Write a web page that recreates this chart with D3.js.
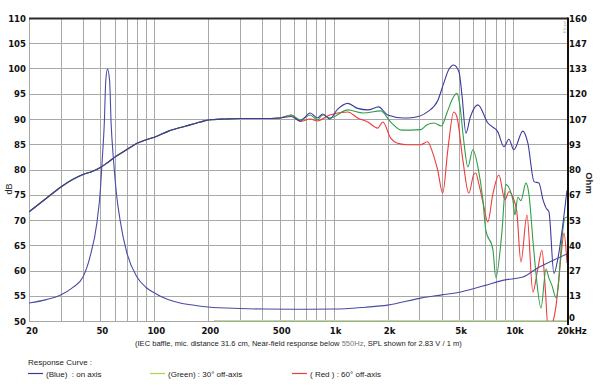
<!DOCTYPE html>
<html><head><meta charset="utf-8">
<script src="https://cdn.jsdelivr.net/npm/d3@7"></script>
<style>
html,body{margin:0;padding:0;background:#fff;}
svg{display:block;}
.tick{font-family:"Liberation Sans Narrow","Arial Narrow","DejaVu Sans Condensed",sans-serif;font-weight:bold;font-size:9.5px;fill:#111;}
.cap{font-family:"Liberation Sans",Arial,sans-serif;font-size:8px;fill:#222;white-space:pre;}
</style></head>
<body>
<div id="chart"></div>
<script>
// ---------- data ----------
const xTickVals = [20, 50, 100, 200, 500, 1000, 2000, 5000, 10000, 20000];
const xTickLabels = ["20", "50", "100", "200", "500", "1k", "2k", "5k", "10k", "20kHz"];
const dbTicks = [50, 55, 60, 65, 70, 75, 80, 85, 90, 95, 100, 105, 110];
const ohmTickLabels = ["0", "13", "27", "40", "53", "67", "80", "93", "107", "120", "133", "147", "160"];

// shared near-field part (all three curves)
const lowFreq = [20, 25, 30, 35, 40, 45, 50, 55, 60, 70, 80, 90, 100, 120, 150, 180, 200, 250, 300, 400, 500];
const lowDb = [71.6, 74.3, 76.5, 78.0, 79.0, 79.6, 80.4, 81.4, 82.4, 83.9, 85.2, 85.9, 86.4, 87.6, 88.6, 89.4, 89.8, 90.0, 90.1, 90.1, 90.2];

const blueFreq = [580, 650, 740, 810, 870, 950, 1050, 1200, 1360, 1550, 1780, 2000, 2460, 2780, 3330, 3800, 4100, 4370, 4670, 5000, 5200, 5460, 5780, 6370, 7240, 8240, 8900, 9490, 10100, 11350, 12100, 13100, 13960, 14700, 15280, 15860, 16910, 17820, 19240, 20000];
const blueDb = [90.5, 89.6, 91.2, 90.2, 91.0, 90.0, 91.9, 93.1, 92.1, 91.8, 92.4, 90.8, 90.2, 90.3, 91.4, 93.6, 97.0, 99.7, 100.7, 99.3, 94.5, 87.2, 90.4, 92.8, 89.2, 87.4, 84.5, 86.0, 83.9, 87.6, 85.2, 77.6, 77.3, 74.0, 72.4, 71.6, 59.4, 62.5, 70.9, 75.9];

const greenFreq = [580, 650, 740, 810, 870, 950, 1200, 1460, 1830, 2080, 2390, 3060, 3300, 3630, 3980, 4300, 4600, 4860, 5050, 5300, 5600, 5970, 6370, 6790, 7050, 7720, 8020, 8670, 9120, 9980, 10240, 10640, 11070, 11800, 12280, 12910, 13420, 14320, 15280, 15860, 16500, 17370, 18000, 18500, 19500, 20000];
const greenDb = [90.8, 89.8, 90.8, 89.8, 90.8, 90.2, 91.8, 91.2, 91.6, 89.4, 87.8, 87.9, 88.8, 89.2, 88.6, 91.4, 94.0, 95.1, 92.8, 86.0, 80.5, 83.9, 80.5, 74.0, 68.0, 64.2, 58.6, 67.6, 77.0, 74.0, 71.0, 74.5, 73.8, 77.3, 75.0, 66.0, 59.5, 52.6, 60.3, 58.5, 57.0, 54.6, 58.0, 64.0, 70.4, 70.6];

const redFreq = [580, 650, 740, 810, 950, 1200, 1360, 1550, 1760, 1880, 2080, 2270, 2600, 3050, 3340, 3550, 3800, 4055, 4330, 4670, 4860, 5250, 5670, 6040, 6200, 6440, 6800, 7240, 7700, 8340, 9010, 9490, 9990, 10500, 11070, 11960, 12910, 13700, 14500, 15100, 15660, 16500, 17370, 18500, 19240, 20000];
const redDb = [90.8, 89.5, 90.0, 89.6, 90.8, 91.4, 90.2, 89.4, 88.2, 89.4, 86.2, 85.2, 84.9, 84.9, 85.5, 83.5, 79.9, 75.3, 83.9, 91.4, 90.5, 81.9, 75.3, 79.0, 79.3, 77.2, 73.5, 69.6, 74.9, 78.9, 74.0, 75.6, 74.5, 71.6, 61.7, 71.0, 55.7, 60.0, 64.0, 57.0, 49.0, 49.5, 53.0, 62.7, 67.4, 61.5];

const impFreq = [20, 25, 30, 35, 40, 43.8, 47.8, 50, 51.2, 52.6, 53.6, 54.8, 56.3, 57.4, 59.2, 61.5, 64.4, 70.3, 80, 90, 98, 120, 139, 170, 200, 300, 404, 600, 1000, 1500, 2000, 3060, 4000, 5100, 6200, 7000, 8900, 11350, 13700, 16900, 20000];
const impOhm = [9.5, 11.3, 13.7, 17.6, 23.2, 34.0, 51.7, 69, 85, 104.5, 127, 133, 127, 104.5, 85, 67, 53.3, 35.9, 23.2, 17.7, 15.3, 11.2, 9.5, 8.2, 7.4, 6.6, 6.3, 6.2, 6.3, 7.3, 8.4, 12.1, 13.8, 15.3, 17.4, 18.8, 21.6, 23.2, 28.0, 32.2, 35.4];

const seriesNames = ["(Blue)  : on axis", "(Green) : 30° off-axis", "( Red ) : 60° off-axis"];

// ---------- layout ----------
const W = 600, H = 392;
const L = 29, R = 567, T = 18, B = 321;
const svg = d3.select("#chart").append("svg").attr("width", W).attr("height", H);

const x = d3.scaleLog().domain([20, 20000]).range([L, R]);
const yDb = d3.scaleLinear().domain([50, 110]).range([B, T]);
const yOhm = d3.scaleLinear().domain([0, 160]).range([B, T]);

// grid
const grid = svg.append("g").attr("stroke", "#a8a8a8").attr("stroke-width", 1);
x.ticks().forEach(f => {
  const px = Math.round(x(f)) + 0.5;
  grid.append("line").attr("x1", px).attr("x2", px).attr("y1", T).attr("y2", B);
});
dbTicks.forEach(v => {
  const py = Math.round(yDb(v)) + 0.5;
  grid.append("line").attr("x1", L).attr("x2", R).attr("y1", py).attr("y2", py);
});

// bottom light green marker line
svg.append("line").attr("x1", x(215)).attr("x2", R).attr("y1", B - 0.5).attr("y2", B - 0.5)
  .attr("stroke", "#b6e08c").attr("stroke-width", 1.2);

// borders
svg.append("line").attr("x1", L).attr("x2", R + 1).attr("y1", T + 0.5).attr("y2", T + 0.5)
  .attr("stroke", "#2a2a2a").attr("stroke-width", 2);
svg.append("line").attr("x1", R + 1).attr("x2", R + 1).attr("y1", T - 0.5).attr("y2", B + 4)
  .attr("stroke", "#111").attr("stroke-width", 2);

// clip
svg.append("clipPath").attr("id", "clip").append("rect")
  .attr("x", L).attr("y", T).attr("width", R - L).attr("height", B - T);

const curves = svg.append("g").attr("clip-path", "url(#clip)").attr("fill", "none");
const lineDb = d3.line().x(d => x(d[0])).y(d => yDb(d[1])).curve(d3.curveMonotoneX);
const lineOhm = d3.line().x(d => x(d[0])).y(d => yOhm(d[1])).curve(d3.curveMonotoneX);
const zipS = (fa, va) => fa.map((f, i) => [f, va[i]]);

const low = zipS(lowFreq, lowDb);
curves.append("path").attr("d", lineDb(low.concat(zipS(redFreq, redDb))))
  .attr("stroke", "#ef3a3a").attr("stroke-width", 1.1);
curves.append("path").attr("d", lineDb(low.concat(zipS(greenFreq, greenDb))))
  .attr("stroke", "#2f9f48").attr("stroke-width", 1.1);
curves.append("path").attr("d", lineDb(low.concat(zipS(blueFreq, blueDb))))
  .attr("stroke", "#3b3b9e").attr("stroke-width", 1.1);
curves.append("path").attr("d", lineOhm(zipS(impFreq, impOhm)))
  .attr("stroke", "#4a4aa8").attr("stroke-width", 1.1);

// left axis labels
dbTicks.forEach(v => {
  svg.append("text").attr("class", "tick").attr("x", 26).attr("y", yDb(v) + 3.5)
    .attr("text-anchor", "end").text(v);
});
// right axis labels
ohmTickLabels.forEach((lab, i) => {
  const yy = i === 0 ? yOhm(0) : yOhm(i * 160 / 12) + 3.5;
  svg.append("text").attr("class", "tick").attr("x", 569).attr("y", yy)
    .attr("text-anchor", "start").text(lab);
});
// bottom labels
xTickVals.forEach((v, i) => {
  const off = i === 0 ? 3 : (i === xTickVals.length - 1 ? 5 : 2);
  svg.append("text").attr("class", "tick").attr("x", x(v) + off).attr("y", 334)
    .attr("text-anchor", "middle").text(xTickLabels[i]);
});

// axis titles
svg.append("text").attr("transform", "translate(12,189) rotate(-90)")
  .attr("text-anchor", "middle").attr("font-family", "Liberation Sans, Arial, sans-serif")
  .attr("font-size", 9).attr("fill", "#222").text("dB");
svg.append("text").attr("transform", "translate(586,183) rotate(90)")
  .attr("text-anchor", "middle").attr("font-family", "Liberation Sans, Arial, sans-serif")
  .attr("font-weight", "bold").attr("font-size", 9.5).attr("fill", "#222").text("Ohm");
svg.append("text").attr("transform", "translate(566,27) rotate(-90)")
  .attr("text-anchor", "middle").attr("font-family", "Liberation Sans, Arial, sans-serif")
  .attr("font-size", 4).attr("fill", "#aaa").text("Klippel");

// caption: fit to width by measuring, no textLength
const cap = svg.append("text").attr("class", "cap").attr("x", 135).attr("y", 346);
cap.append("tspan").text("(IEC baffle, mic. distance 31.6 cm, Near-field response below ");
cap.append("tspan").attr("fill", "#777").text("550Hz");
cap.append("tspan").text(", SPL shown for 2.83 V / 1 m)");
const capLen = cap.node().getComputedTextLength();
if (capLen > 0) cap.style("font-size", (8 * 327 / capLen).toFixed(2) + "px");

// legend
svg.append("text").attr("class", "cap").attr("x", 28).attr("y", 365)
  .attr("font-size", 8.5).attr("fill", "#555").text("Response Curve :");
const legendColors = ["#3b3b9e", "#a6d84a", "#ef3a3a"];
const legendX = [28, 150, 292];
seriesNames.forEach((name, i) => {
  svg.append("line").attr("x1", legendX[i]).attr("x2", legendX[i] + 15)
    .attr("y1", 373.5).attr("y2", 373.5).attr("stroke", legendColors[i]).attr("stroke-width", 1.2);
  svg.append("text").attr("class", "cap").attr("x", legendX[i] + 18).attr("y", 376.5)
    .attr("font-size", 8.5).attr("fill", "#555").text(name);
});
</script>
</body></html>
